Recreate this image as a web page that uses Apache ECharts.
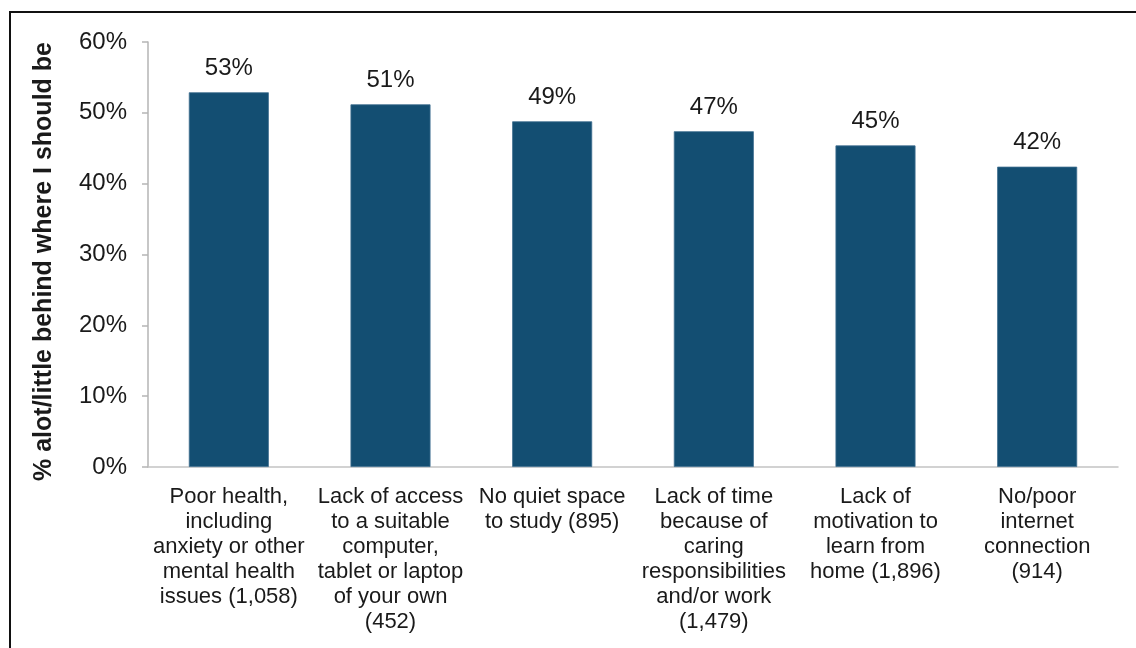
<!DOCTYPE html>
<html>
<head>
<meta charset="utf-8">
<script src="https://cdn.jsdelivr.net/npm/echarts@6/dist/echarts.min.js"></script>
<style>
  html, body { margin: 0; padding: 0; background: #fff; }
  #chart { width: 1136px; height: 648px; }
</style>
</head>
<body>
<div id="chart"></div>
<script>
// Barriers to learning and the share of students who feel behind
const categories = [
  'Poor health,\nincluding\nanxiety or other\nmental health\nissues (1,058)',
  'Lack of access\nto a suitable\ncomputer,\ntablet or laptop\nof your own\n(452)',
  'No quiet space\nto study (895)',
  'Lack of time\nbecause of\ncaring\nresponsibilities\nand/or work\n(1,479)',
  'Lack of\nmotivation to\nlearn from\nhome (1,896)',
  'No/poor\ninternet\nconnection\n(914)'
];
const behindPct = [52.9, 51.2, 48.8, 47.4, 45.4, 42.4];
const yTicks = { min: 0, max: 60, interval: 10 };
const yAxisTitle = '% alot/little behind where I should be';

const FONT = '"Liberation Sans", Arial, sans-serif';
const chart = echarts.init(document.getElementById('chart'), null, { renderer: 'canvas' });

chart.setOption({
  animation: false,
  backgroundColor: '#ffffff',
  grid: { left: 148, right: 18, top: 42, bottom: 181, containLabel: false },
  graphic: [{
    type: 'rect',
    shape: { x: 10, y: 12, width: 1140, height: 660 },
    style: { fill: 'none', stroke: '#111', lineWidth: 2 },
    silent: true
  }],
  xAxis: {
    type: 'category',
    data: categories,
    axisLine: { show: true, lineStyle: { color: '#c4c4c4', width: 1.5 } },
    axisTick: { show: false },
    axisLabel: {
      interval: 0,
      margin: 17,
      color: '#1a1a1a',
      fontFamily: FONT,
      fontSize: 22,
      lineHeight: 25,
      align: 'center'
    }
  },
  yAxis: {
    type: 'value',
    min: yTicks.min,
    max: yTicks.max,
    interval: yTicks.interval,
    name: yAxisTitle,
    nameLocation: 'middle',
    nameGap: 91,
    nameRotate: 90,
    nameTextStyle: {
      fontFamily: FONT,
      fontWeight: 'bold',
      fontSize: 25,
      color: '#1a1a1a',
      padding: [0, 14, 0, 0]
    },
    axisLine: { show: true, lineStyle: { color: '#b5b5b5', width: 1.5 } },
    axisTick: { show: true, length: 6, lineStyle: { color: '#b5b5b5', width: 1.5 } },
    splitLine: { show: false },
    axisLabel: {
      margin: 21,
      color: '#1a1a1a',
      fontFamily: FONT,
      fontSize: 24,
      formatter: v => v + '%'
    }
  },
  series: [{
    type: 'bar',
    data: behindPct,
    barWidth: 80,
    itemStyle: { color: '#134E72', borderColor: '#3f6f8f', borderWidth: 0.8 },
    label: {
      show: true,
      position: 'top',
      distance: 12,
      color: '#1a1a1a',
      fontFamily: FONT,
      fontSize: 24,
      formatter: p => Math.round(p.value) + '%'
    }
  }]
});
</script>
</body>
</html>
